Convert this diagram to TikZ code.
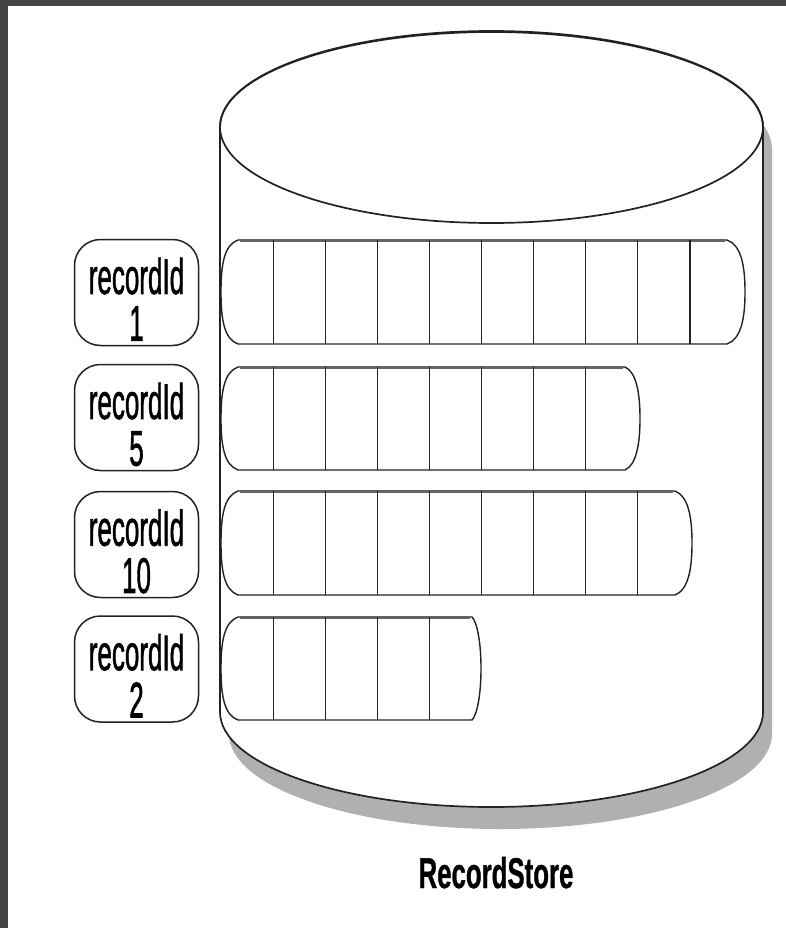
\documentclass[tikz,border=0pt]{standalone}
\usepackage{fontspec}
\usepackage{graphicx}
\setmainfont{Liberation Sans}
\newfontfamily\labelfont{Liberation Sans}[FakeBold=1.6]
\newfontfamily\titlefont{Liberation Sans Bold}[FakeBold=1.0]
\definecolor{framegray}{HTML}{454545}
\definecolor{ink}{HTML}{222222}
\definecolor{shadowgray}{HTML}{B0B0B0}
\begin{document}
\begin{tikzpicture}[x=1pt,y=-1pt,
  outline/.style={draw=ink,line width=1.7pt},
  rowline/.style={draw=ink,line width=1.4pt,fill=white},
  cellsep/.style={draw=ink,line width=1.2pt},
  labelbox/.style={draw=ink,line width=1.5pt,rounded corners=26pt,
     minimum width=124pt,minimum height=106pt,inner sep=0pt},
  labeltext/.style={inner sep=0pt,font=\labelfont\fontsize{50}{41}\selectfont},
  titletext/.style={inner sep=0pt,anchor=base,font=\titlefont\fontsize{43}{50}\selectfont}]
\useasboundingbox (0,0) rectangle (786,928);
\fill[white] (0,0) rectangle (786,928);
\fill[framegray] (0,0) rectangle (786,6);
\fill[framegray] (0,0) rectangle (8,928);
% shadow
\fill[shadowgray,shift={(9,22)}] (220,127) -- (220,712)
  .. controls (220,764.5) and (341.5,807) .. (491.5,807)
  .. controls (641.5,807) and (763,764.5) .. (763,712) -- (763,127)
  .. controls (763,74.5) and (641.5,32) .. (491.5,32)
  .. controls (341.5,32) and (220,74.5) .. cycle;
% cylinder body
\filldraw[outline,fill=white] (220,127) -- (220,712)
  .. controls (220,764.5) and (341.5,807) .. (491.5,807)
  .. controls (641.5,807) and (763,764.5) .. (763,712) -- (763,127)
  .. controls (763,74.5) and (641.5,32) .. (491.5,32)
  .. controls (341.5,32) and (220,74.5) .. cycle;
% top ellipse
\draw[outline] (491.5,127) ellipse [x radius=271.5pt, y radius=96pt];
% rows
\foreach \t/\b/\e/\m/\n in {240/344/727/745/9, 367/470/625/640/7, 491/595/675/692/8, 617/720/472/481/4}{
  \pgfmathsetmacro\mid{(\t+\b)/2}
  \filldraw[rowline] (238,\t) -- (\e,\t)
    .. controls (\m-4,\t+5) and (\m,\t+25) .. (\m,\mid)
    .. controls (\m,\b-25) and (\m-4,\b-5) .. (\e,\b) -- (238,\b)
    .. controls (224,\b-5) and (221,\b-25) .. (221,\mid)
    .. controls (221,\t+25) and (224,\t+5) .. cycle;
  \draw[draw=ink!70,line width=2.4pt] (240,\t+0.6) -- (\e-2,\t+0.6);
  \foreach \k in {1,...,\n}{
    \draw[cellsep] (221+52.1*\k,\t) -- (221+52.1*\k,\b);
  }
}
% labels
\node[labelbox] (b1) at (136.5,292.5) {};
\node[labeltext] (t1) at (136.5,305.3) {\scalebox{0.52}[1]{\begin{tabular}{@{}c@{}}recordId\\1\end{tabular}}};
\node[labelbox] (b5) at (136.5,417.5) {};
\node[labeltext] (t5) at (136.5,430.3) {\scalebox{0.52}[1]{\begin{tabular}{@{}c@{}}recordId\\5\end{tabular}}};
\node[labelbox] (b10) at (136.5,544.5) {};
\node[labeltext] (t10) at (136.5,557.3) {\scalebox{0.52}[1]{\begin{tabular}{@{}c@{}}recordId\\10\end{tabular}}};
\node[labelbox] (b2) at (136.5,669) {};
\node[labeltext] (t2) at (136.5,681.8) {\scalebox{0.52}[1]{\begin{tabular}{@{}c@{}}recordId\\2\end{tabular}}};
% title
\node[titletext] (title) at (496,888) {\scalebox{0.6}[1]{RecordStore}};
\end{tikzpicture}
\end{document}
